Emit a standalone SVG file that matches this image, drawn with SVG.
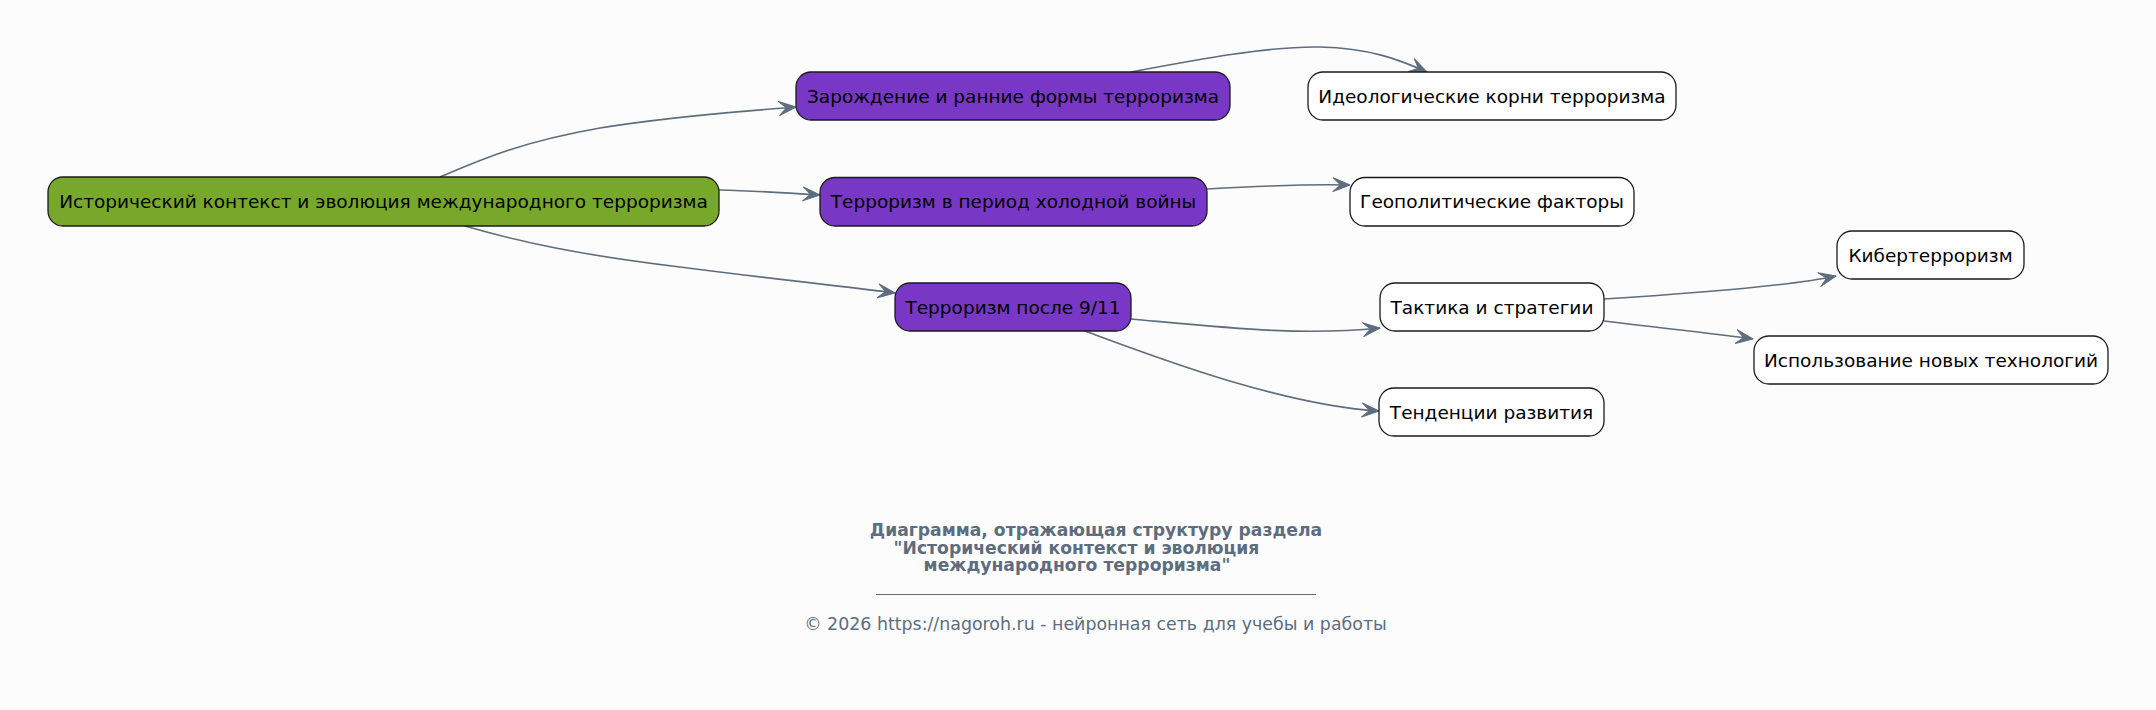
<svg xmlns="http://www.w3.org/2000/svg" width="2156" height="710" viewBox="0 0 2156 710">
<defs>
<marker id="arr" viewBox="0 0 18 16" refX="17.5" refY="8" markerWidth="18" markerHeight="16" markerUnits="userSpaceOnUse" orient="auto">
<path d="M0.5,1 L17.5,8 L0.5,15 L8,8 Z" fill="#5d6d7e" stroke="#5d6d7e" stroke-width="1" stroke-linejoin="round"/>
</marker>
</defs>
<style>
.bg{fill:#fcfcfd}
.n rect{stroke:#1a1a1a;stroke-width:1.3}
.root rect{fill:#78a82b}
.sec rect{fill:#7837c4}
.leaf rect{fill:#ffffff}
.n text{font-family:"DejaVu Sans",sans-serif;font-size:18.5px;fill:#000;text-anchor:middle;dominant-baseline:central}
.e path{fill:none;stroke:#5d6d7e;stroke-width:1.6;marker-end:url(#arr)}
.t{font-family:"DejaVu Sans",sans-serif;font-size:17.2px;font-weight:bold;fill:#5d6d7e;text-anchor:middle}
.f{font-family:"DejaVu Sans",sans-serif;font-size:17.4px;fill:#5d6d7e;text-anchor:middle}
</style>
<rect class="bg" x="0" y="0" width="2156" height="710"/>
<g id="edges" class="e">
<path d="M440,177 C480,160 520,142 600,128 C680,115 750,111 796,107"/>
<path d="M719,190 C760,191 790,193 820,195"/>
<path d="M465,226 C520,242 580,255 680,267 C780,280 850,287 895,293"/>
<path d="M1131,72 C1200,59 1270,46 1320,47 C1370,48 1400,60 1427,72"/>
<path d="M1207,189 C1260,186 1300,184 1350,185"/>
<path d="M1131,319 C1230,328 1300,336 1380,328"/>
<path d="M1085,331 C1150,355 1280,405 1379,411"/>
<path d="M1604,299 C1700,293 1790,286 1836,276"/>
<path d="M1604,321 C1660,328 1710,333 1753,339"/>
</g>
<g id="n_root" class="n root"><rect x="48" y="177" width="671" height="49" rx="15"/><text x="383.5" y="201.5">Исторический контекст и эволюция международного терроризма</text></g>
<g id="n_origins" class="n sec"><rect x="796" y="72" width="434" height="48" rx="15"/><text x="1013" y="96">Зарождение и ранние формы терроризма</text></g>
<g id="n_cold" class="n sec"><rect x="820" y="177.5" width="387" height="48.5" rx="15"/><text x="1013.5" y="201.5">Терроризм в период холодной войны</text></g>
<g id="n_911" class="n sec"><rect x="895" y="283" width="236" height="48" rx="15"/><text x="1013" y="307">Терроризм после 9/11</text></g>
<g id="n_ideo" class="n leaf"><rect x="1308" y="72" width="368" height="48" rx="15"/><text x="1492" y="96">Идеологические корни терроризма</text></g>
<g id="n_geo" class="n leaf"><rect x="1350" y="177.5" width="284" height="48.5" rx="15"/><text x="1492" y="201.5">Геополитические факторы</text></g>
<g id="n_tact" class="n leaf"><rect x="1380" y="283" width="224" height="48" rx="15"/><text x="1492" y="307">Тактика и стратегии</text></g>
<g id="n_trend" class="n leaf"><rect x="1379" y="388" width="225" height="48" rx="15"/><text x="1491.5" y="412">Тенденции развития</text></g>
<g id="n_cyber" class="n leaf"><rect x="1837" y="231" width="187" height="48" rx="15"/><text x="1930.5" y="255">Кибертерроризм</text></g>
<g id="n_tech" class="n leaf"><rect x="1754" y="336" width="354" height="48" rx="15"/><text x="1931" y="360">Использование новых технологий</text></g>
<g id="title">
<text class="t" x="1096" y="536">Диаграмма, отражающая структуру раздела</text>
<text class="t" x="1076.5" y="553.5">"Исторический контекст и эволюция</text>
<text class="t" x="1077" y="571">международного терроризма"</text>
<line x1="876" y1="594.5" x2="1316" y2="594.5" stroke="#5d6d7e" stroke-width="1.2"/>
<text class="f" x="1095.5" y="630">© 2026 https://nagoroh.ru - нейронная сеть для учебы и работы</text>
</g>
</svg>
